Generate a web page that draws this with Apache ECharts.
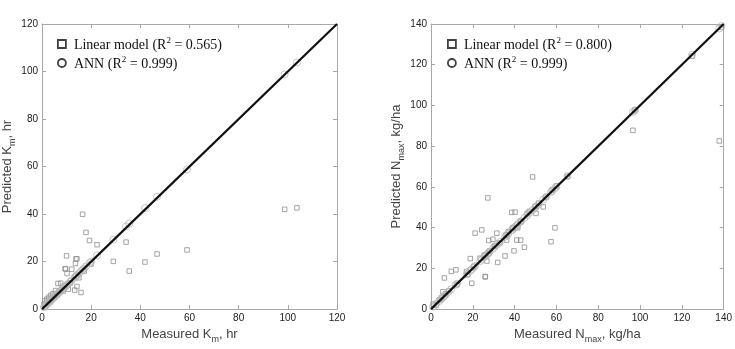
<!DOCTYPE html>
<html>
<head>
<meta charset="utf-8">
<script src="https://cdn.jsdelivr.net/npm/echarts@6/dist/echarts.min.js"></script>
<style>
  body { margin: 0; background: #fff; }
  #chart { width: 735px; height: 349px; }
</style>
</head>
<body>
<div id="chart"></div>
<script>
// K_m plot (hr)
const kmMeasured = [0.8, 1.2, 1.6, 2.0, 2.4, 2.8, 3.2, 3.6, 4.0, 4.5, 5.0, 5.5, 6.0, 6.5, 7.0, 7.6, 8.0, 8.6, 9.0, 9.4,
  9.6, 10.0, 10.2, 10.7, 11.5, 12.1, 13.3, 13.6, 13.8, 14.2, 14.2, 15.0, 15.9, 16.5, 17.2, 17.9, 19.3, 20.0, 22.4,
  29.0, 34.2, 35.5, 41.9, 46.8, 59.0, 98.7, 103.7]
const kmLinear = [2.0, 3.5, 2.4, 4.2, 3.0, 5.0, 3.8, 5.8, 4.6, 6.5, 5.2, 7.8, 6.0, 10.8, 7.5, 10.9, 8.2, 7.6, 9.8, 17.0,
  16.9, 22.4, 15.0, 8.4, 11.0, 16.8, 8.0, 19.2, 21.1, 21.2, 9.5, 13.2, 7.0, 39.9, 16.0, 32.3, 28.9, 19.0, 27.1,
  20.1, 28.2, 16.0, 19.8, 23.2, 24.9, 42.0, 42.6]
const kmAnn = [0.8, 1.3, 1.6, 2.1, 2.4, 2.9, 3.2, 3.6, 4.1, 4.5, 5.0, 5.6, 6.0, 6.6, 7.0, 7.6, 8.1, 8.6, 9.0, 9.4,
  9.6, 10.1, 10.2, 10.7, 11.5, 12.1, 13.3, 13.6, 13.9, 14.2, 14.3, 15.0, 15.9, 16.6, 17.2, 18.0, 19.4, 20.0, 22.6,
  29.2, 34.8, 36.0, 42.5, 47.3, 58.8, 98.8, 103.8]

// N_max plot (kg/ha)
const nMeasured = [1.0, 2.5, 4.0, 5.0, 5.7, 6.4, 7.0, 8.5, 9.7, 11.9, 12.5, 17.0, 17.5, 18.8, 19.5, 20.5, 21.1, 23.5,
  24.3, 25.5, 25.9, 26.0, 26.7, 27.2, 27.6, 28.0, 29.6, 30.5, 31.5, 31.9, 33.0, 35.4, 36.0, 36.2, 37.0, 38.6, 39.0,
  39.7, 40.2, 41.0, 41.5, 42.9, 43.0, 44.7, 46.0, 47.0, 48.6, 50.0, 50.2, 51.5, 53.7, 55.0, 57.4, 58.0, 59.3, 60.0,
  65.3, 96.6, 97.6, 124.9, 137.9, 139.0]
const nLinear = [2.5, 2.0, 4.5, 5.5, 8.5, 15.3, 7.5, 9.0, 18.5, 19.3, 12.0, 18.5, 17.0, 24.8, 12.7, 21.0, 37.3, 25.0,
  38.9, 26.5, 15.8, 16.0, 23.6, 54.6, 33.7, 28.5, 34.3, 31.0, 37.3, 22.9, 32.5, 26.1, 36.5, 33.9, 38.0, 47.5, 40.0,
  28.6, 47.6, 33.9, 40.0, 33.9, 43.0, 30.4, 47.0, 48.0, 64.9, 50.5, 47.0, 52.0, 50.2, 55.0, 33.1, 58.5, 39.9, 60.5,
  65.2, 87.8, 97.8, 124.2, 82.6, 138.4]
const nAnn = [1.2, 2.6, 4.0, 5.0, 5.8, 6.5, 7.1, 8.5, 9.8, 12.0, 12.5, 17.1, 17.4, 18.9, 19.5, 20.6, 21.2, 23.6,
  24.4, 25.6, 26.0, 26.1, 26.8, 27.3, 27.5, 28.1, 29.7, 30.6, 31.6, 32.0, 33.0, 35.5, 36.1, 36.3, 37.1, 38.7, 39.1,
  39.8, 40.3, 41.0, 41.6, 43.0, 43.1, 44.8, 46.0, 47.2, 48.6, 50.1, 50.3, 51.5, 53.8, 55.1, 57.5, 58.1, 59.4, 60.1,
  65.3, 96.8, 97.6, 124.9, 137.8, 139.0]

const kmMax = 120, kmStep = 20
const nMax = 140, nStep = 20
const kmR2 = ['0.565', '0.999']
const nR2 = ['0.800', '0.999']

function pairs(xs, ys) {
  return xs.map((x, i) => [x, ys[i]])
}

const boxColor = '#a8a8a8'
const labelFont = { fontFamily: 'Arial, "Liberation Sans", sans-serif', fontSize: 10, color: '#222' }
const nameRich = {
  a: { fontFamily: 'Arial, "Liberation Sans", sans-serif', fontSize: 13, color: '#444', lineHeight: 16, verticalAlign: 'bottom' },
  s: { fontFamily: 'Arial, "Liberation Sans", sans-serif', fontSize: 9, color: '#444', lineHeight: 16, verticalAlign: 'bottom', padding: [0, 0, -3, 0] }
}
const legendRich = {
  t: { fontFamily: '"Liberation Serif", "Times New Roman", serif', fontSize: 14, color: '#111', lineHeight: 16, verticalAlign: 'bottom' },
  p: { fontFamily: '"Liberation Serif", "Times New Roman", serif', fontSize: 9, color: '#111', lineHeight: 16, verticalAlign: 'top' }
}

function axisPair(gridIndex, max, step, name, isX) {
  const common = {
    gridIndex: gridIndex,
    type: 'value',
    min: 0,
    max: max,
    interval: step,
    splitLine: { show: false },
    axisLine: { show: true, onZero: false, lineStyle: { color: boxColor, width: 1 } },
    axisTick: { show: true, inside: true, length: 4, lineStyle: { color: boxColor } }
  }
  const main = Object.assign({}, common, {
    position: isX ? 'bottom' : 'left',
    name: name,
    nameLocation: 'middle',
    nameGap: isX ? 14 : 22,
    nameTextStyle: { rich: nameRich },
    axisLabel: Object.assign({ margin: 4 }, labelFont)
  })
  const other = Object.assign({}, common, {
    position: isX ? 'top' : 'right',
    axisLabel: { show: false }
  })
  return [main, other]
}

const xAxes = axisPair(0, kmMax, kmStep, '{a|Measured K}{s|m}{a|, hr}', true)
  .concat(axisPair(1, nMax, nStep, '{a|Measured N}{s|max}{a|, kg/ha}', true))
const yAxes = axisPair(0, kmMax, kmStep, '{a|Predicted K}{s|m}{a|, hr}', false)
  .concat(axisPair(1, nMax, nStep, '{a|Predicted N}{s|max}{a|, kg/ha}', false))

const legendText = {
  kmLin: '{t|Linear model (R}{p|2}{t| = ' + kmR2[0] + ')}',
  kmAnn: '{t|ANN (R}{p|2}{t| = ' + kmR2[1] + ')}',
  nLin: '{t|Linear model (R}{p|2}{t| = ' + nR2[0] + ')}',
  nAnn: '{t|ANN (R}{p|2}{t| = ' + nR2[1] + ')}'
}

function legendFor(names, left) {
  return {
    orient: 'vertical',
    left: left,
    top: 36,
    itemGap: 3,
    itemWidth: 8,
    itemHeight: 8,
    padding: 0,
    selectedMode: false,
    data: [
      { name: names[0], icon: 'rect', itemStyle: { color: '#fff', borderColor: '#111', borderWidth: 1.8 } },
      { name: names[1], icon: 'circle', itemStyle: { color: '#fff', borderColor: '#111', borderWidth: 1.8 } }
    ],
    formatter: n => legendText[n],
    textStyle: { rich: legendRich, padding: [0, 0, 0, 3] }
  }
}

const squareStyle = { color: 'rgba(255,255,255,0)', borderColor: '#8f8f8f', borderWidth: 1 }
const circleStyle = { color: 'rgba(255,255,255,0)', borderColor: '#b8b8b8', borderWidth: 1 }

const chart = echarts.init(document.getElementById('chart'))
chart.setOption({
  animation: false,
  backgroundColor: '#fff',
  grid: [
    { left: 42, top: 24, width: 295, height: 295 },
    { left: 431, top: 24, width: 293, height: 294 }
  ],
  xAxis: xAxes,
  yAxis: yAxes,
  legend: [legendFor(['kmLin', 'kmAnn'], 57), legendFor(['nLin', 'nAnn'], 447)],
  series: [
    { name: 'kmLin', type: 'scatter', xAxisIndex: 0, yAxisIndex: 0, symbol: 'rect', symbolSize: 4.5, itemStyle: squareStyle, data: pairs(kmMeasured, kmLinear) },
    { name: 'kmAnn', type: 'scatter', xAxisIndex: 0, yAxisIndex: 0, symbol: 'circle', symbolSize: 7, itemStyle: circleStyle, data: pairs(kmMeasured, kmAnn) },
    { name: 'kmLine', type: 'line', xAxisIndex: 0, yAxisIndex: 0, symbol: 'none', z: 5, lineStyle: { color: '#111', width: 2.2 }, data: [[0, 0], [kmMax, kmMax]] },
    { name: 'nLin', type: 'scatter', xAxisIndex: 2, yAxisIndex: 2, symbol: 'rect', symbolSize: 4.5, itemStyle: squareStyle, data: pairs(nMeasured, nLinear) },
    { name: 'nAnn', type: 'scatter', xAxisIndex: 2, yAxisIndex: 2, symbol: 'circle', symbolSize: 7, itemStyle: circleStyle, data: pairs(nMeasured, nAnn) },
    { name: 'nLine', type: 'line', xAxisIndex: 2, yAxisIndex: 2, symbol: 'none', z: 5, lineStyle: { color: '#111', width: 2.2 }, data: [[0, 0], [nMax, nMax]] }
  ]
})
</script>
</body>
</html>
